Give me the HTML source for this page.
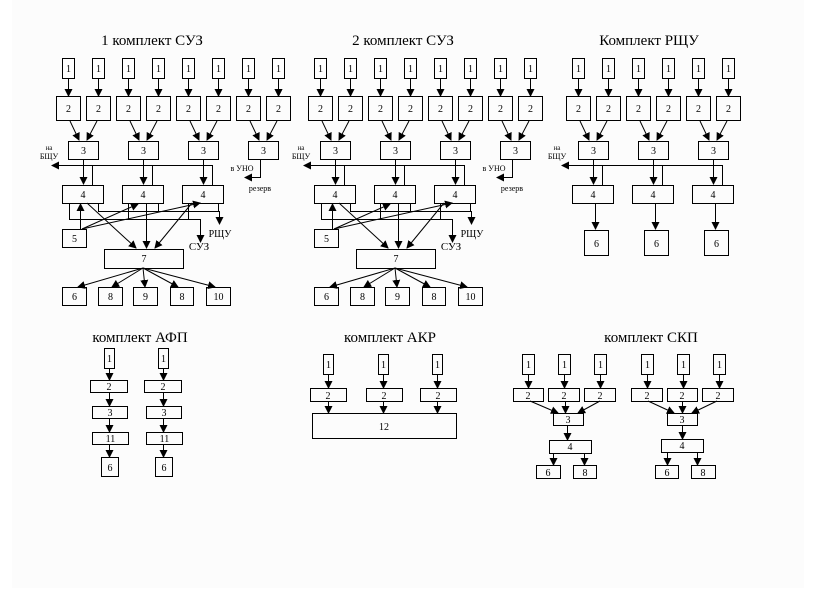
<!DOCTYPE html>
<html><head><meta charset="utf-8"><style>
html,body{margin:0;padding:0;background:#fff;}
svg{display:block;font-family:"Liberation Serif",serif;}
</style></head><body>
<svg width="816" height="613" viewBox="0 0 816 613" xmlns="http://www.w3.org/2000/svg">
<defs>
<marker id="a" markerWidth="8" markerHeight="8" refX="7" refY="4" orient="auto" markerUnits="userSpaceOnUse"><path d="M0,0 L8,4 L0,8 z" fill="#000"/></marker>
</defs>
<rect x="0" y="0" width="816" height="613" fill="#fff"/>
<rect x="12" y="0" width="792" height="588" fill="#fcfcfc"/>
<g fill="none" stroke="#000" stroke-width="1">
<g id="suz">
<rect x="62.5" y="58.5" width="12" height="20" fill="#fff"/><rect x="92.5" y="58.5" width="12" height="20" fill="#fff"/><rect x="122.5" y="58.5" width="12" height="20" fill="#fff"/><rect x="152.5" y="58.5" width="12" height="20" fill="#fff"/><rect x="182.5" y="58.5" width="12" height="20" fill="#fff"/><rect x="212.5" y="58.5" width="12" height="20" fill="#fff"/><rect x="242.5" y="58.5" width="12" height="20" fill="#fff"/><rect x="272.5" y="58.5" width="12" height="20" fill="#fff"/>
<path d="M68.5 78v18M98.5 78v18M128.5 78v18M158.5 78v18M188.5 78v18M218.5 78v18M248.5 78v18M278.5 78v18" marker-end="url(#a)"/>
<line x1="68.5" y1="78" x2="68.5" y2="96" marker-end="url(#a)"/><line x1="98.5" y1="78" x2="98.5" y2="96" marker-end="url(#a)"/><line x1="128.5" y1="78" x2="128.5" y2="96" marker-end="url(#a)"/><line x1="158.5" y1="78" x2="158.5" y2="96" marker-end="url(#a)"/><line x1="188.5" y1="78" x2="188.5" y2="96" marker-end="url(#a)"/><line x1="218.5" y1="78" x2="218.5" y2="96" marker-end="url(#a)"/><line x1="248.5" y1="78" x2="248.5" y2="96" marker-end="url(#a)"/><line x1="278.5" y1="78" x2="278.5" y2="96" marker-end="url(#a)"/>
<rect x="56.5" y="96.5" width="24" height="24"/><rect x="86.5" y="96.5" width="24" height="24"/><rect x="116.5" y="96.5" width="24" height="24"/><rect x="146.5" y="96.5" width="24" height="24"/><rect x="176.5" y="96.5" width="24" height="24"/><rect x="206.5" y="96.5" width="24" height="24"/><rect x="236.5" y="96.5" width="24" height="24"/><rect x="266.5" y="96.5" width="24" height="24"/>
<line x1="70" y1="121" x2="79" y2="140" marker-end="url(#a)"/><line x1="97" y1="121" x2="87" y2="140" marker-end="url(#a)"/>
<line x1="130" y1="121" x2="139" y2="140" marker-end="url(#a)"/><line x1="157" y1="121" x2="147" y2="140" marker-end="url(#a)"/>
<line x1="190" y1="121" x2="199" y2="140" marker-end="url(#a)"/><line x1="217" y1="121" x2="207" y2="140" marker-end="url(#a)"/>
<line x1="250" y1="121" x2="259" y2="140" marker-end="url(#a)"/><line x1="277" y1="121" x2="267" y2="140" marker-end="url(#a)"/>
<rect x="68.5" y="141.5" width="30" height="18"/><rect x="128.5" y="141.5" width="30" height="18"/><rect x="188.5" y="141.5" width="30" height="18"/><rect x="248.5" y="141.5" width="30" height="18"/>
<line x1="83.5" y1="159" x2="83.5" y2="184" marker-end="url(#a)"/><line x1="143.5" y1="159" x2="143.5" y2="184" marker-end="url(#a)"/><line x1="203.5" y1="159" x2="203.5" y2="184" marker-end="url(#a)"/>
<line x1="212.5" y1="165.5" x2="52" y2="165.5" marker-end="url(#a)"/>
<path d="M92.5 165v20M152.5 165v20M212.5 165v20"/>
<polyline points="260.5,159 260.5,177.5 245,177.5" marker-end="url(#a)"/>
<rect x="62.5" y="185.5" width="41" height="18"/><rect x="122.5" y="185.5" width="41" height="18"/><rect x="182.5" y="185.5" width="41" height="18"/>
<polyline points="69.5,203 69.5,219.5 200.5,219.5 200.5,242" marker-end="url(#a)"/>
<polyline points="98.5,203 98.5,211.5 219.5,211.5 219.5,224" marker-end="url(#a)"/>
<path d="M128.5 203v16M158.5 203v8M188.5 203v16M218.5 203v8"/>
<rect x="62.5" y="229.5" width="24" height="18"/>
<line x1="80.5" y1="229" x2="80.5" y2="204" marker-end="url(#a)"/>
<line x1="82" y1="229" x2="138" y2="204" marker-end="url(#a)"/>
<line x1="82" y1="229" x2="200" y2="203" marker-end="url(#a)"/>
<line x1="87" y1="203" x2="136" y2="248" marker-end="url(#a)"/>
<line x1="146.5" y1="203" x2="146.5" y2="248" marker-end="url(#a)"/>
<line x1="192" y1="203" x2="155" y2="248" marker-end="url(#a)"/>
<rect x="104.5" y="249.5" width="79" height="19"/>
<line x1="143" y1="268" x2="78" y2="287" marker-end="url(#a)"/>
<line x1="143" y1="268" x2="112" y2="287" marker-end="url(#a)"/>
<line x1="143" y1="268" x2="145" y2="287" marker-end="url(#a)"/>
<line x1="143" y1="268" x2="178" y2="287" marker-end="url(#a)"/>
<line x1="143" y1="268" x2="215" y2="287" marker-end="url(#a)"/>
<rect x="62.5" y="287.5" width="24" height="18"/><rect x="98.5" y="287.5" width="24" height="18"/><rect x="133.5" y="287.5" width="24" height="18"/><rect x="170.5" y="287.5" width="23" height="18"/><rect x="206.5" y="287.5" width="24" height="18"/>
<g stroke="none" fill="#000" font-size="10" text-anchor="middle">
<text x="68.5" y="72">1</text><text x="98.5" y="72">1</text><text x="128.5" y="72">1</text><text x="158.5" y="72">1</text><text x="188.5" y="72">1</text><text x="218.5" y="72">1</text><text x="248.5" y="72">1</text><text x="278.5" y="72">1</text>
<text x="68.5" y="112">2</text><text x="98.5" y="112">2</text><text x="128.5" y="112">2</text><text x="158.5" y="112">2</text><text x="188.5" y="112">2</text><text x="218.5" y="112">2</text><text x="248.5" y="112">2</text><text x="278.5" y="112">2</text>
<text x="83.5" y="154">3</text><text x="143.5" y="154">3</text><text x="203.5" y="154">3</text><text x="263.5" y="154">3</text>
<text x="83" y="198">4</text><text x="143" y="198">4</text><text x="203" y="198">4</text>
<text x="74.5" y="242">5</text><text x="144" y="262">7</text>
<text x="74.5" y="300">6</text><text x="110.5" y="300">8</text><text x="145.5" y="300">9</text><text x="182" y="300">8</text><text x="218.5" y="300">10</text>
<text x="49" y="150" font-size="7">на</text><text x="49" y="159" font-size="8">БЩУ</text>
<text x="242" y="171" font-size="8">в УНО</text><text x="260" y="191" font-size="8">резерв</text>
<text x="220" y="237" font-size="10">РЩУ</text><text x="199" y="250" font-size="11">СУЗ</text>
</g>
</g>
<g transform="translate(252,0)">
<rect x="62.5" y="58.5" width="12" height="20" fill="#fff"/><rect x="92.5" y="58.5" width="12" height="20" fill="#fff"/><rect x="122.5" y="58.5" width="12" height="20" fill="#fff"/><rect x="152.5" y="58.5" width="12" height="20" fill="#fff"/><rect x="182.5" y="58.5" width="12" height="20" fill="#fff"/><rect x="212.5" y="58.5" width="12" height="20" fill="#fff"/><rect x="242.5" y="58.5" width="12" height="20" fill="#fff"/><rect x="272.5" y="58.5" width="12" height="20" fill="#fff"/>
<line x1="68.5" y1="78" x2="68.5" y2="96" marker-end="url(#a)"/><line x1="98.5" y1="78" x2="98.5" y2="96" marker-end="url(#a)"/><line x1="128.5" y1="78" x2="128.5" y2="96" marker-end="url(#a)"/><line x1="158.5" y1="78" x2="158.5" y2="96" marker-end="url(#a)"/><line x1="188.5" y1="78" x2="188.5" y2="96" marker-end="url(#a)"/><line x1="218.5" y1="78" x2="218.5" y2="96" marker-end="url(#a)"/><line x1="248.5" y1="78" x2="248.5" y2="96" marker-end="url(#a)"/><line x1="278.5" y1="78" x2="278.5" y2="96" marker-end="url(#a)"/>
<rect x="56.5" y="96.5" width="24" height="24"/><rect x="86.5" y="96.5" width="24" height="24"/><rect x="116.5" y="96.5" width="24" height="24"/><rect x="146.5" y="96.5" width="24" height="24"/><rect x="176.5" y="96.5" width="24" height="24"/><rect x="206.5" y="96.5" width="24" height="24"/><rect x="236.5" y="96.5" width="24" height="24"/><rect x="266.5" y="96.5" width="24" height="24"/>
<line x1="70" y1="121" x2="79" y2="140" marker-end="url(#a)"/><line x1="97" y1="121" x2="87" y2="140" marker-end="url(#a)"/>
<line x1="130" y1="121" x2="139" y2="140" marker-end="url(#a)"/><line x1="157" y1="121" x2="147" y2="140" marker-end="url(#a)"/>
<line x1="190" y1="121" x2="199" y2="140" marker-end="url(#a)"/><line x1="217" y1="121" x2="207" y2="140" marker-end="url(#a)"/>
<line x1="250" y1="121" x2="259" y2="140" marker-end="url(#a)"/><line x1="277" y1="121" x2="267" y2="140" marker-end="url(#a)"/>
<rect x="68.5" y="141.5" width="30" height="18"/><rect x="128.5" y="141.5" width="30" height="18"/><rect x="188.5" y="141.5" width="30" height="18"/><rect x="248.5" y="141.5" width="30" height="18"/>
<line x1="83.5" y1="159" x2="83.5" y2="184" marker-end="url(#a)"/><line x1="143.5" y1="159" x2="143.5" y2="184" marker-end="url(#a)"/><line x1="203.5" y1="159" x2="203.5" y2="184" marker-end="url(#a)"/>
<line x1="212.5" y1="165.5" x2="52" y2="165.5" marker-end="url(#a)"/>
<path d="M92.5 165v20M152.5 165v20M212.5 165v20"/>
<polyline points="260.5,159 260.5,177.5 245,177.5" marker-end="url(#a)"/>
<rect x="62.5" y="185.5" width="41" height="18"/><rect x="122.5" y="185.5" width="41" height="18"/><rect x="182.5" y="185.5" width="41" height="18"/>
<polyline points="69.5,203 69.5,219.5 200.5,219.5 200.5,242" marker-end="url(#a)"/>
<polyline points="98.5,203 98.5,211.5 219.5,211.5 219.5,224" marker-end="url(#a)"/>
<path d="M128.5 203v16M158.5 203v8M188.5 203v16M218.5 203v8"/>
<rect x="62.5" y="229.5" width="24" height="18"/>
<line x1="80.5" y1="229" x2="80.5" y2="204" marker-end="url(#a)"/>
<line x1="82" y1="229" x2="138" y2="204" marker-end="url(#a)"/>
<line x1="82" y1="229" x2="200" y2="203" marker-end="url(#a)"/>
<line x1="87" y1="203" x2="136" y2="248" marker-end="url(#a)"/>
<line x1="146.5" y1="203" x2="146.5" y2="248" marker-end="url(#a)"/>
<line x1="192" y1="203" x2="155" y2="248" marker-end="url(#a)"/>
<rect x="104.5" y="249.5" width="79" height="19"/>
<line x1="143" y1="268" x2="78" y2="287" marker-end="url(#a)"/>
<line x1="143" y1="268" x2="112" y2="287" marker-end="url(#a)"/>
<line x1="143" y1="268" x2="145" y2="287" marker-end="url(#a)"/>
<line x1="143" y1="268" x2="178" y2="287" marker-end="url(#a)"/>
<line x1="143" y1="268" x2="215" y2="287" marker-end="url(#a)"/>
<rect x="62.5" y="287.5" width="24" height="18"/><rect x="98.5" y="287.5" width="24" height="18"/><rect x="133.5" y="287.5" width="24" height="18"/><rect x="170.5" y="287.5" width="23" height="18"/><rect x="206.5" y="287.5" width="24" height="18"/>
<g stroke="none" fill="#000" font-size="10" text-anchor="middle">
<text x="68.5" y="72">1</text><text x="98.5" y="72">1</text><text x="128.5" y="72">1</text><text x="158.5" y="72">1</text><text x="188.5" y="72">1</text><text x="218.5" y="72">1</text><text x="248.5" y="72">1</text><text x="278.5" y="72">1</text>
<text x="68.5" y="112">2</text><text x="98.5" y="112">2</text><text x="128.5" y="112">2</text><text x="158.5" y="112">2</text><text x="188.5" y="112">2</text><text x="218.5" y="112">2</text><text x="248.5" y="112">2</text><text x="278.5" y="112">2</text>
<text x="83.5" y="154">3</text><text x="143.5" y="154">3</text><text x="203.5" y="154">3</text><text x="263.5" y="154">3</text>
<text x="83" y="198">4</text><text x="143" y="198">4</text><text x="203" y="198">4</text>
<text x="74.5" y="242">5</text><text x="144" y="262">7</text>
<text x="74.5" y="300">6</text><text x="110.5" y="300">8</text><text x="145.5" y="300">9</text><text x="182" y="300">8</text><text x="218.5" y="300">10</text>
<text x="49" y="150" font-size="7">на</text><text x="49" y="159" font-size="8">БЩУ</text>
<text x="242" y="171" font-size="8">в УНО</text><text x="260" y="191" font-size="8">резерв</text>
<text x="220" y="237" font-size="10">РЩУ</text><text x="199" y="250" font-size="11">СУЗ</text>
</g>
</g>

<!-- RSCHU -->
<g>
<rect x="572.5" y="58.5" width="12" height="20"/><rect x="602.5" y="58.5" width="12" height="20"/><rect x="632.5" y="58.5" width="12" height="20"/><rect x="662.5" y="58.5" width="12" height="20"/><rect x="692.5" y="58.5" width="12" height="20"/><rect x="722.5" y="58.5" width="12" height="20"/>
<line x1="578.5" y1="78" x2="578.5" y2="96" marker-end="url(#a)"/><line x1="608.5" y1="78" x2="608.5" y2="96" marker-end="url(#a)"/><line x1="638.5" y1="78" x2="638.5" y2="96" marker-end="url(#a)"/><line x1="668.5" y1="78" x2="668.5" y2="96" marker-end="url(#a)"/><line x1="698.5" y1="78" x2="698.5" y2="96" marker-end="url(#a)"/><line x1="728.5" y1="78" x2="728.5" y2="96" marker-end="url(#a)"/>
<rect x="566.5" y="96.5" width="24" height="24"/><rect x="596.5" y="96.5" width="24" height="24"/><rect x="626.5" y="96.5" width="24" height="24"/><rect x="656.5" y="96.5" width="24" height="24"/><rect x="686.5" y="96.5" width="24" height="24"/><rect x="716.5" y="96.5" width="24" height="24"/>
<line x1="580" y1="121" x2="589" y2="140" marker-end="url(#a)"/><line x1="607" y1="121" x2="597" y2="140" marker-end="url(#a)"/>
<line x1="640" y1="121" x2="649" y2="140" marker-end="url(#a)"/><line x1="667" y1="121" x2="657" y2="140" marker-end="url(#a)"/>
<line x1="700" y1="121" x2="709" y2="140" marker-end="url(#a)"/><line x1="727" y1="121" x2="717" y2="140" marker-end="url(#a)"/>
<rect x="578.5" y="141.5" width="30" height="18"/><rect x="638.5" y="141.5" width="30" height="18"/><rect x="698.5" y="141.5" width="30" height="18"/>
<line x1="593.5" y1="159" x2="593.5" y2="184" marker-end="url(#a)"/><line x1="653.5" y1="159" x2="653.5" y2="184" marker-end="url(#a)"/><line x1="713.5" y1="159" x2="713.5" y2="184" marker-end="url(#a)"/>
<line x1="722.5" y1="165.5" x2="562" y2="165.5" marker-end="url(#a)"/>
<path d="M602.5 165v20M662.5 165v20M722.5 165v20"/>
<rect x="572.5" y="185.5" width="41" height="18"/><rect x="632.5" y="185.5" width="41" height="18"/><rect x="692.5" y="185.5" width="41" height="18"/>
<line x1="595.5" y1="203" x2="595.5" y2="229" marker-end="url(#a)"/><line x1="655.5" y1="203" x2="655.5" y2="229" marker-end="url(#a)"/><line x1="715.5" y1="203" x2="715.5" y2="229" marker-end="url(#a)"/>
<rect x="584.5" y="230.5" width="24" height="25"/><rect x="644.5" y="230.5" width="24" height="25"/><rect x="704.5" y="230.5" width="24" height="25"/>
<g stroke="none" fill="#000" font-size="10" text-anchor="middle">
<text x="578.5" y="72">1</text><text x="608.5" y="72">1</text><text x="638.5" y="72">1</text><text x="668.5" y="72">1</text><text x="698.5" y="72">1</text><text x="728.5" y="72">1</text>
<text x="578.5" y="112">2</text><text x="608.5" y="112">2</text><text x="638.5" y="112">2</text><text x="668.5" y="112">2</text><text x="698.5" y="112">2</text><text x="728.5" y="112">2</text>
<text x="593.5" y="154">3</text><text x="653.5" y="154">3</text><text x="713.5" y="154">3</text>
<text x="593" y="198">4</text><text x="653" y="198">4</text><text x="713" y="198">4</text>
<text x="596.5" y="247">6</text><text x="656.5" y="247">6</text><text x="716.5" y="247">6</text>
<text x="557" y="150" font-size="7">на</text><text x="557" y="159" font-size="8">БЩУ</text>
</g>
</g>

<!-- AFP -->
<g>
<rect x="104.5" y="348.5" width="10" height="20"/><rect x="158.5" y="348.5" width="10" height="20"/>
<line x1="109.5" y1="368" x2="109.5" y2="380" marker-end="url(#a)"/><line x1="163.5" y1="368" x2="163.5" y2="380" marker-end="url(#a)"/>
<rect x="90.5" y="380.5" width="37" height="12"/><rect x="144.5" y="380.5" width="37" height="12"/>
<line x1="109.5" y1="392" x2="109.5" y2="406" marker-end="url(#a)"/><line x1="163.5" y1="392" x2="163.5" y2="406" marker-end="url(#a)"/>
<rect x="92.5" y="406.5" width="35" height="12"/><rect x="146.5" y="406.5" width="35" height="12"/>
<line x1="109.5" y1="418" x2="109.5" y2="432" marker-end="url(#a)"/><line x1="163.5" y1="418" x2="163.5" y2="432" marker-end="url(#a)"/>
<rect x="92.5" y="432.5" width="36" height="12"/><rect x="146.5" y="432.5" width="36" height="12"/>
<line x1="109.5" y1="444" x2="109.5" y2="457" marker-end="url(#a)"/><line x1="163.5" y1="444" x2="163.5" y2="457" marker-end="url(#a)"/>
<rect x="101.5" y="457.5" width="17" height="19"/><rect x="155.5" y="457.5" width="17" height="19"/>
<g stroke="none" fill="#000" font-size="10" text-anchor="middle">
<text x="109.5" y="362">1</text><text x="163.5" y="362">1</text>
<text x="109" y="390">2</text><text x="163" y="390">2</text>
<text x="110" y="416">3</text><text x="164" y="416">3</text>
<text x="110.5" y="442">11</text><text x="164.5" y="442">11</text>
<text x="110" y="471">6</text><text x="164" y="471">6</text>
</g>
</g>

<!-- AKR -->
<g>
<rect x="323.5" y="354.5" width="10" height="20"/><rect x="378.5" y="354.5" width="10" height="20"/><rect x="432.5" y="354.5" width="10" height="20"/>
<line x1="328.5" y1="374" x2="328.5" y2="388" marker-end="url(#a)"/><line x1="383.5" y1="374" x2="383.5" y2="388" marker-end="url(#a)"/><line x1="437.5" y1="374" x2="437.5" y2="388" marker-end="url(#a)"/>
<rect x="310.5" y="388.5" width="36" height="13"/><rect x="366.5" y="388.5" width="36" height="13"/><rect x="420.5" y="388.5" width="36" height="13"/>
<line x1="328.5" y1="401" x2="328.5" y2="413" marker-end="url(#a)"/><line x1="383.5" y1="401" x2="383.5" y2="413" marker-end="url(#a)"/><line x1="437.5" y1="401" x2="437.5" y2="413" marker-end="url(#a)"/>
<rect x="312.5" y="413.5" width="144" height="25"/>
<g stroke="none" fill="#000" font-size="10" text-anchor="middle">
<text x="328.5" y="368">1</text><text x="383.5" y="368">1</text><text x="437.5" y="368">1</text>
<text x="328" y="399">2</text><text x="384" y="399">2</text><text x="438" y="399">2</text>
<text x="384" y="430">12</text>
</g>
</g>

<!-- SKP -->
<g>
<rect x="522.5" y="354.5" width="12" height="20"/><rect x="558.5" y="354.5" width="12" height="20"/><rect x="594.5" y="354.5" width="12" height="20"/>
<rect x="641.5" y="354.5" width="12" height="20"/><rect x="677.5" y="354.5" width="12" height="20"/><rect x="713.5" y="354.5" width="12" height="20"/>
<line x1="528.5" y1="374" x2="528.5" y2="388" marker-end="url(#a)"/><line x1="564.5" y1="374" x2="564.5" y2="388" marker-end="url(#a)"/><line x1="600.5" y1="374" x2="600.5" y2="388" marker-end="url(#a)"/>
<line x1="647.5" y1="374" x2="647.5" y2="388" marker-end="url(#a)"/><line x1="683.5" y1="374" x2="683.5" y2="388" marker-end="url(#a)"/><line x1="719.5" y1="374" x2="719.5" y2="388" marker-end="url(#a)"/>
<rect x="513.5" y="388.5" width="30" height="13"/><rect x="548.5" y="388.5" width="31" height="13"/><rect x="584.5" y="388.5" width="31" height="13"/>
<rect x="631.5" y="388.5" width="31" height="13"/><rect x="667.5" y="388.5" width="30" height="13"/><rect x="702.5" y="388.5" width="31" height="13"/>
<line x1="530" y1="401" x2="558" y2="413" marker-end="url(#a)"/><line x1="565.5" y1="401" x2="565.5" y2="413" marker-end="url(#a)"/><line x1="600" y1="401" x2="578" y2="413" marker-end="url(#a)"/>
<line x1="648" y1="401" x2="674" y2="413" marker-end="url(#a)"/><line x1="682.5" y1="401" x2="682.5" y2="413" marker-end="url(#a)"/><line x1="717" y1="401" x2="692" y2="413" marker-end="url(#a)"/>
<rect x="553.5" y="413.5" width="30" height="12"/><rect x="667.5" y="413.5" width="30" height="12"/>
<line x1="567.5" y1="425" x2="567.5" y2="440" marker-end="url(#a)"/><line x1="682.5" y1="425" x2="682.5" y2="439" marker-end="url(#a)"/>
<rect x="549.5" y="440.5" width="42" height="13"/><rect x="661.5" y="439.5" width="42" height="13"/>
<line x1="553.5" y1="453" x2="553.5" y2="465" marker-end="url(#a)"/><line x1="584.5" y1="453" x2="584.5" y2="465" marker-end="url(#a)"/>
<line x1="667.5" y1="452" x2="667.5" y2="465" marker-end="url(#a)"/><line x1="697.5" y1="452" x2="697.5" y2="465" marker-end="url(#a)"/>
<rect x="536.5" y="465.5" width="24" height="13"/><rect x="573.5" y="465.5" width="23" height="13"/>
<rect x="655.5" y="465.5" width="23" height="13"/><rect x="691.5" y="465.5" width="24" height="13"/>
<g stroke="none" fill="#000" font-size="10" text-anchor="middle">
<text x="528.5" y="368">1</text><text x="564.5" y="368">1</text><text x="600.5" y="368">1</text>
<text x="647.5" y="368">1</text><text x="683.5" y="368">1</text><text x="719.5" y="368">1</text>
<text x="528" y="399">2</text><text x="564" y="399">2</text><text x="600" y="399">2</text>
<text x="647" y="399">2</text><text x="682" y="399">2</text><text x="718" y="399">2</text>
<text x="568" y="423">3</text><text x="682" y="423">3</text>
<text x="570" y="450">4</text><text x="682" y="449">4</text>
<text x="548" y="476">6</text><text x="585" y="476">8</text><text x="667" y="476">6</text><text x="703" y="476">8</text>
</g>
</g>
</g>
<g fill="#000" font-size="15" text-anchor="middle">
<text x="152" y="45">1 комплект СУЗ</text>
<text x="403" y="45">2 комплект СУЗ</text>
<text x="649" y="45">Комплект РЩУ</text>
<text x="140" y="342">комплект  АФП</text>
<text x="390" y="342">комплект  АКР</text>
<text x="651" y="342">комплект  СКП</text>
</g>
</svg>
</body></html>
